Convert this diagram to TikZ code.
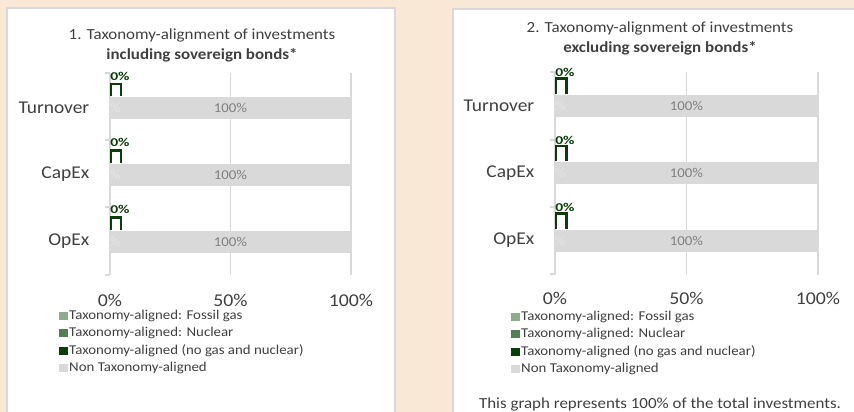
\documentclass[tikz,border=0pt]{standalone}
\usepackage{fontspec}
\setmainfont{Carlito}

\definecolor{pagebg}{HTML}{FAE8D7}
\definecolor{gridgray}{HTML}{D9D9D9}
\definecolor{labelgray}{HTML}{404040}
\definecolor{darkgreen}{HTML}{0A3D0A}
\definecolor{gasgreen}{HTML}{8FAA8F}
\definecolor{nucgreen}{HTML}{557D55}

\tikzset{
  panel/.style = {fill=white, draw=gridgray, line width=1.2pt},
  gridline/.style = {draw=gridgray, line width=1.4pt},
  nonbar/.style = {fill=gridgray},
  zerobracket/.style = {draw=darkgreen, line width=2.2pt},
  zerolabel/.style = {anchor=west, inner sep=0pt, xscale=1.3, text=darkgreen, font=\fontsize{12}{12}\selectfont\bfseries},
  barlabel/.style = {inner sep=0pt, xscale=1.1, text=gray, font=\fontsize{13.5}{13.5}\selectfont},
  faintlabel/.style = {inner sep=0pt, xscale=1.1, text=white!80!gray, font=\fontsize{13.5}{13.5}\selectfont},
  catlabel/.style = {anchor=east, inner sep=0pt, xscale=1.08, text=labelgray, font=\fontsize{18}{18}\selectfont},
  ticklabel/.style = {inner sep=0pt, xscale=1.1, text=labelgray, font=\fontsize{18}{18}\selectfont},
  titletext/.style = {inner sep=0pt, xscale=1.1, text=labelgray, font=\fontsize{15.4}{15.4}\selectfont},
  legendtext/.style = {anchor=west, inner sep=0pt, xscale=1.1, text=labelgray, font=\fontsize{13.5}{13.5}\selectfont},
  legendkey/.style = {minimum width=9pt, minimum height=8pt, inner sep=0pt}
}

\begin{document}
\begin{tikzpicture}[x = 1pt, y = -1pt]
    \useasboundingbox (0,0) rectangle (854,412);
    \fill[pagebg] (0,0) rectangle (854,412);
    \draw[panel] (7,8) rectangle (395,425);
    \draw[panel] (453,9) rectangle (865,425);

    % chart 1
    \node[titletext] (title1) at (202,35) {1. Taxonomy-alignment of investments};
    \node[titletext, font=\fontsize{15.4}{15.4}\selectfont\bfseries] (sub1) at (202,55) {including sovereign bonds*};
    \begin{scope}[x = 2.41pt, shift = {(110pt,0pt)}]
        \foreach \p in {50,100}
            \draw[gridline] (\p,73) -- (\p,275);
        \draw[gridline] (0,73) -- (0,275);
        \foreach \t in {73,140,207,275}
            \draw[gridline] (-2,\t) -- (0,\t);
        \foreach \yc/\cat in {108/Turnover, 174.5/CapEx, 241.5/OpEx} {
            \fill[nonbar] (0,\yc-11) rectangle (100,\yc+11);
            \node[barlabel] at (50,\yc) {100\%};
            \node[faintlabel] at (2.2,\yc) {\%};
            \draw[zerobracket] (0.5,\yc-12) -- (0.5,\yc-24) -- (4.6,\yc-24) -- (4.6,\yc-12);
            \node[zerolabel] at (0,\yc-32) {0\%};
            \node[catlabel, xshift=-19pt] (cat1\cat) at (0,\yc) {\cat};
        }
        \foreach \p in {0,50,100}
            \node[ticklabel] (tick1\p) at (\p,300) {\p\%};
    \end{scope}
    \node[legendkey, fill=gasgreen] (key1a) at (63,316) {};
    \node[legendtext] at (69,316) {Taxonomy-aligned: Fossil gas};
    \node[legendkey, fill=nucgreen] (key1b) at (63,333) {};
    \node[legendtext] at (69,333) {Taxonomy-aligned: Nuclear};
    \node[legendkey, fill=darkgreen] (key1c) at (63,351) {};
    \node[legendtext] at (69,351) {Taxonomy-aligned (no gas and nuclear)};
    \node[legendkey, fill=gridgray] (key1d) at (63,368) {};
    \node[legendtext] at (69,368) {Non Taxonomy-aligned};

    % chart 2
    \node[titletext] (title2) at (660,28) {2. Taxonomy-alignment of investments};
    \node[titletext, font=\fontsize{15.4}{15.4}\selectfont\bfseries] (sub2) at (660,48) {excluding sovereign bonds*};
    \begin{scope}[x = 2.63pt, shift = {(555pt,0pt)}]
        \foreach \p in {50,100}
            \draw[gridline] (\p,72) -- (\p,275);
        \draw[gridline] (0,72) -- (0,275);
        \foreach \t in {72,140,207,274}
            \draw[gridline] (-2,\t) -- (0,\t);
        \foreach \yc/\cat in {105.5/Turnover, 173/CapEx, 240.5/OpEx} {
            \fill[nonbar] (0,\yc-11) rectangle (100,\yc+11);
            \node[barlabel] at (50,\yc) {100\%};
            \node[faintlabel] at (2,\yc) {\%};
            \draw[zerobracket] (0.5,\yc-12) -- (0.5,\yc-27) -- (4.4,\yc-27) -- (4.4,\yc-12);
            \node[zerolabel] at (0,\yc-33) {0\%};
            \node[catlabel, xshift=-19pt] (cat2\cat) at (0,\yc) {\cat};
        }
        \foreach \p in {0,50,100}
            \node[ticklabel] (tick2\p) at (\p,298) {\p\%};
    \end{scope}
    \node[legendkey, fill=gasgreen] (key2a) at (515,317) {};
    \node[legendtext] at (521,317) {Taxonomy-aligned: Fossil gas};
    \node[legendkey, fill=nucgreen] (key2b) at (515,334) {};
    \node[legendtext] at (521,334) {Taxonomy-aligned: Nuclear};
    \node[legendkey, fill=darkgreen] (key2c) at (515,352) {};
    \node[legendtext] at (521,352) {Taxonomy-aligned (no gas and nuclear)};
    \node[legendkey, fill=gridgray] (key2d) at (515,369) {};
    \node[legendtext] at (521,369) {Non Taxonomy-aligned};
    \node[titletext] (note2) at (660,404) {This graph represents 100\% of the total investments.};
\end{tikzpicture}
\end{document}
